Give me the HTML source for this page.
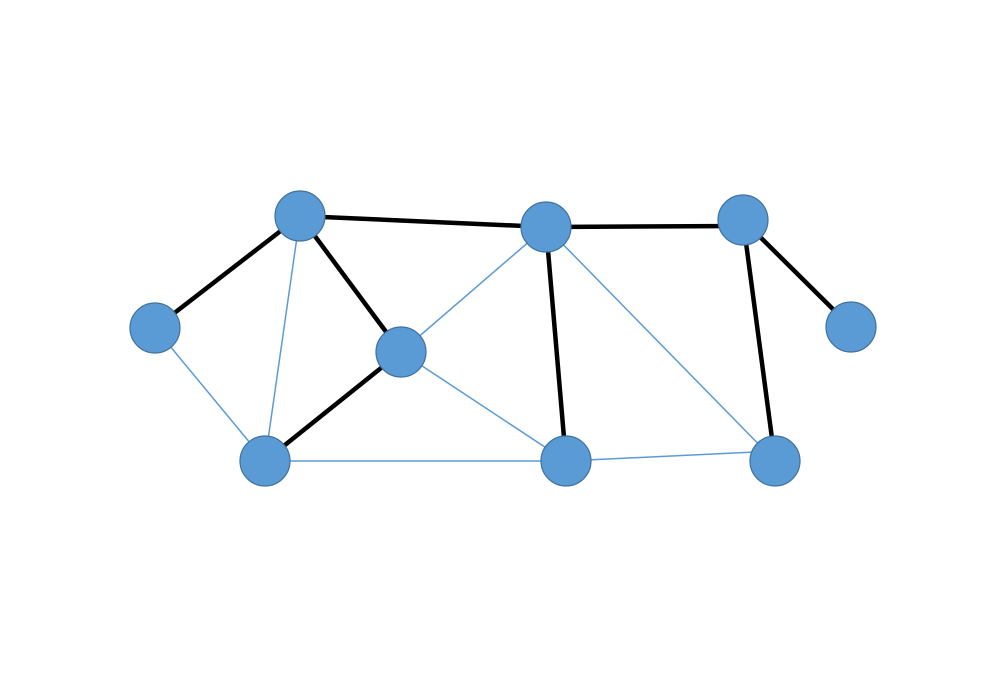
<!DOCTYPE html>
<html><head><style>html,body{margin:0;padding:0;background:#fff;}svg{display:block;}</style></head>
<body>
<svg width="1000" height="675" viewBox="0 0 1000 675" xmlns="http://www.w3.org/2000/svg">
<g stroke="#5B9BD5" stroke-width="1.5">
<line x1="155" y1="328" x2="265" y2="461"/>
<line x1="300" y1="216" x2="265" y2="461"/>
<line x1="401" y1="352" x2="546" y2="227"/>
<line x1="401" y1="352" x2="566" y2="461"/>
<line x1="265" y1="461" x2="566" y2="461"/>
<line x1="546" y1="227" x2="775" y2="461"/>
<line x1="566" y1="461" x2="775" y2="451"/>
</g>
<g stroke="#000" stroke-width="4.5">
<line x1="300" y1="216" x2="546" y2="227"/>
<line x1="546" y1="227" x2="743" y2="226"/>
<line x1="743" y1="220" x2="851" y2="327"/>
<line x1="300" y1="216" x2="155" y2="328"/>
<line x1="300" y1="216" x2="401" y2="352"/>
<line x1="401" y1="352" x2="265" y2="461"/>
<line x1="546" y1="227" x2="566" y2="461"/>
<line x1="743" y1="220" x2="775" y2="461"/>
</g>
<g fill="#5B9BD5" stroke="#41719C" stroke-width="1.2">
<circle cx="300" cy="216" r="25"/>
<circle cx="546" cy="227" r="25"/>
<circle cx="743" cy="220" r="25"/>
<circle cx="155" cy="328" r="25"/>
<circle cx="401" cy="352" r="25"/>
<circle cx="851" cy="327" r="25"/>
<circle cx="265" cy="461" r="25"/>
<circle cx="566" cy="461" r="25"/>
<circle cx="775" cy="461" r="25"/>
</g>
</svg>
</body></html>
